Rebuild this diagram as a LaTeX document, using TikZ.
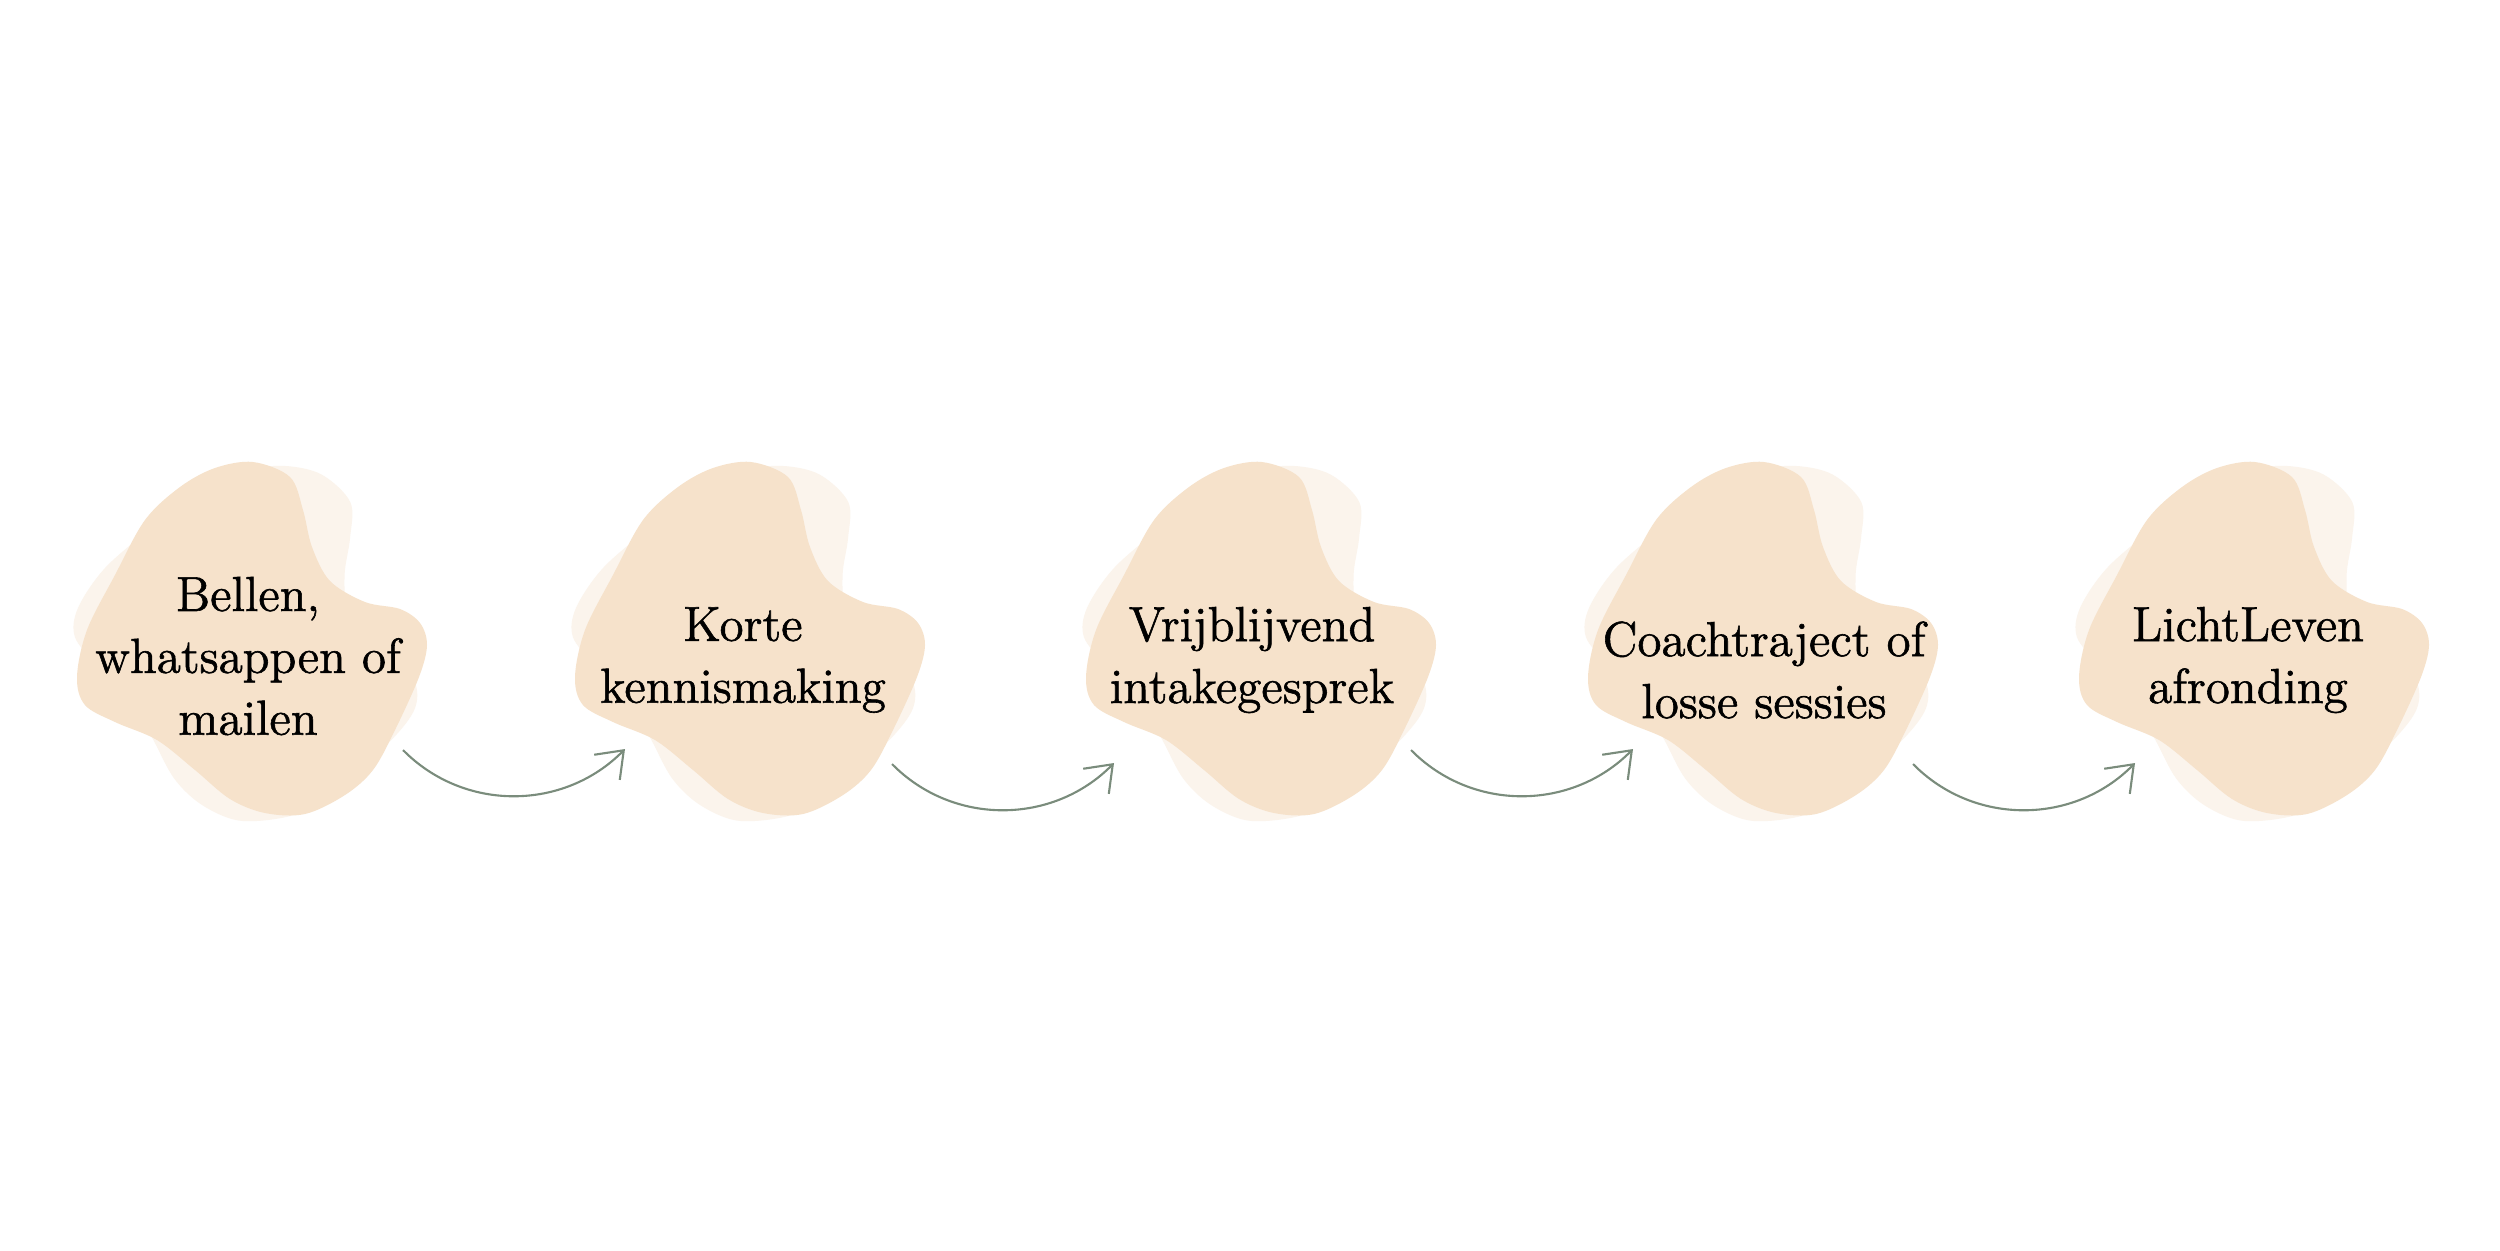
\documentclass[tikz,border=0pt]{standalone}
\usepackage{fontspec}
\usetikzlibrary{arrows.meta}

\newfontfamily\stepfont{lmroman12-regular}[Extension=.otf, FakeBold=1.2]

\definecolor{blobtan}{HTML}{F6E2CB}
\definecolor{blobpale}{HTML}{FBF4EC}
\definecolor{flowgreen}{HTML}{7A8C7C}

% one blob outline, centred on the origin (pixel units)
\newcommand{\blobshape}{plot[smooth cycle, tension=0.55] coordinates {(-2,-183) (35,-168) (48,-135) (57,-98) (75,-64) (110,-43) (145,-36) (165,-22) (172,0) (164,32) (140,85) (118,125) (90,150) (50,169) (10,168) (-25,154) (-60,125) (-98,95) (-140,77) (-170,60) (-178,32) (-168,-15) (-140,-70) (-110,-125) (-75,-158) (-40,-177)}}

\tikzset{
  blobback/.style={fill=blobpale},
  blobfront/.style={fill=blobtan},
  steptext/.style={align=center, inner sep=0pt, font=\stepfont\fontsize{14}{17.6}\selectfont},
  flow/.style={draw=flowgreen, line width=0.6pt, -{Straight Barb[length=6.8pt,width=10.2pt]}}
}

\begin{document}
\begin{tikzpicture}[x=0.01cm, y=-0.01cm]
	\fill[white] (0,0) rectangle (2500,1250);
	\useasboundingbox (0,0) rectangle (2500,1250);
	% pale blobs behind
	\fill[blobback, shift={(255,645)}, rotate=-22] \blobshape;
	\fill[blobback, shift={(753,645)}, rotate=-22] \blobshape;
	\fill[blobback, shift={(1264,645)}, rotate=-22] \blobshape;
	\fill[blobback, shift={(1766,645)}, rotate=-22] \blobshape;
	\fill[blobback, shift={(2257,645)}, rotate=-22] \blobshape;
	% front blobs
	\fill[blobfront, shift={(255,645)}] \blobshape;
	\fill[blobfront, shift={(753,645)}] \blobshape;
	\fill[blobfront, shift={(1264,645)}] \blobshape;
	\fill[blobfront, shift={(1766,645)}] \blobshape;
	\fill[blobfront, shift={(2257,645)}] \blobshape;
	% texts
	\node[steptext] (bellen) at (248,656) {Bellen,\\whatsappen of\\mailen};
	\node[steptext] (korte) at (743,660) {Korte\\kennismaking};
	\node[steptext] (intake) at (1252,660) {Vrijblijvend\\intakegesprek};
	\node[steptext] (traject) at (1764,670) {Coachtraject of\\losse sessies};
	\node[steptext] (afronding) at (2248,660) {LichtLeven\\afronding};
	% arrows
	\coordinate (a1s) at (403,750);
	\coordinate (a1e) at (625,749);
	\coordinate (a2s) at (892,764);
	\coordinate (a2e) at (1114,763);
	\coordinate (a3s) at (1411,750);
	\coordinate (a3e) at (1633,749);
	\coordinate (a4s) at (1913,764);
	\coordinate (a4e) at (2135,763);
	\draw[flow] (a1s) .. controls +(61,62) and +(-61,62) .. (a1e);
	\draw[flow] (a2s) .. controls +(61,62) and +(-61,62) .. (a2e);
	\draw[flow] (a3s) .. controls +(61,62) and +(-61,62) .. (a3e);
	\draw[flow] (a4s) .. controls +(61,62) and +(-61,62) .. (a4e);
\end{tikzpicture}
\end{document}
